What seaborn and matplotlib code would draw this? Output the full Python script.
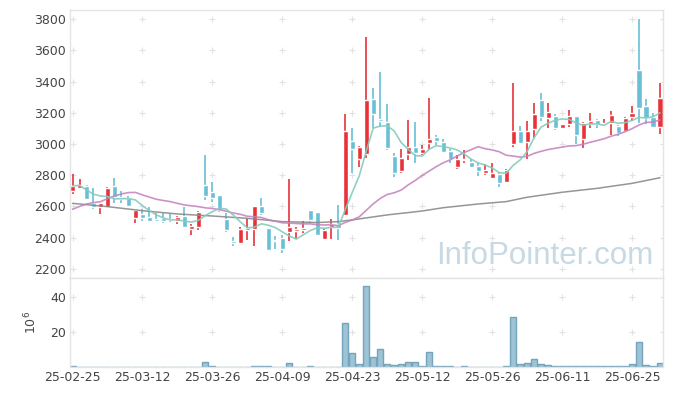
import numpy as np
import pandas as pd
import seaborn as sns
import matplotlib.pyplot as plt

# x axis labels, one every 10 trading days
tick_labels = ["25-02-25", "25-03-12", "25-03-26", "25-04-09", "25-04-23",
               "25-05-12", "25-05-26", "25-06-11", "25-06-25"]

opens = [2696, 2720, 2731, 2620, 2599, 2599, 2731, 2660, 2654, 2528,
         2552, 2533, 2518, 2528, 2522, 2509, 2541, 2458, 2471, 2738,
         2691, 2674, 2520, 2381, 2368, 2450, 2458, 2603, 2460, 2386,
         2396, 2439, 2446, 2450, 2578, 2565, 2394, 2471, 2488, 2546,
         3019, 2906, 2938, 3286, 3160, 3139, 2923, 2827, 2934, 2981,
         2942, 3008, 3045, 3015, 2955, 2855, 2896, 2885, 2859, 2812,
         2784, 2808, 2757, 3000, 3083, 3015, 3098, 3282, 3168, 3179,
         3104, 3126, 3179, 3030, 3126, 3153, 3126, 3136, 3115, 3083,
         3175, 3474, 3243, 3175, 3111]
highs = [2808, 2774, 2738, 2718, 2622, 2722, 2782, 2700, 2670, 2580,
         2585, 2599, 2555, 2555, 2555, 2540, 2595, 2490, 2573, 2930,
         2758, 2674, 2556, 2403, 2471, 2526, 2603, 2652, 2460, 2412,
         2418, 2774, 2471, 2505, 2578, 2565, 2460, 2520, 2610, 3190,
         3100, 2985, 3683, 3356, 3459, 3254, 2944, 2968, 3154, 3141,
         2996, 3292, 3060, 3030, 2970, 2928, 2962, 2906, 2876, 2872,
         2876, 2822, 2838, 3388, 3115, 3149, 3264, 3328, 3260, 3190,
         3130, 3220, 3179, 3141, 3200, 3160, 3160, 3209, 3120, 3170,
         3243, 3798, 3290, 3196, 3388]
lows = [2680, 2710, 2642, 2584, 2552, 2595, 2622, 2622, 2595, 2496,
        2510, 2505, 2500, 2493, 2500, 2490, 2471, 2418, 2450, 2642,
        2630, 2565, 2439, 2347, 2368, 2386, 2347, 2545, 2312, 2327,
        2305, 2381, 2390, 2433, 2492, 2418, 2394, 2394, 2386, 2546,
        2816, 2855, 2908, 3100, 3110, 2962, 2790, 2816, 2896, 2881,
        2928, 2962, 2996, 2940, 2880, 2838, 2876, 2846, 2795, 2801,
        2778, 2726, 2753, 2980, 3000, 2902, 3040, 3150, 3100, 3090,
        3100, 3110, 3000, 2972, 3100, 3100, 3120, 3055, 3050, 3083,
        3150, 3132, 3130, 3100, 3062]
closes = [2732, 2738, 2646, 2599, 2620, 2716, 2663, 2650, 2603, 2578,
          2528, 2509, 2510, 2509, 2512, 2533, 2471, 2475, 2565, 2667,
          2656, 2578, 2450, 2368, 2454, 2464, 2603, 2556, 2322, 2380,
          2326, 2471, 2456, 2462, 2514, 2418, 2450, 2488, 2462, 3083,
          2968, 2981, 3282, 3194, 3149, 2976, 2816, 2908, 2981, 2944,
          2968, 3032, 3021, 2951, 2902, 2904, 2904, 2855, 2829, 2834,
          2812, 2752, 2834, 3083, 3008, 3083, 3192, 3175, 3205, 3104,
          3126, 3179, 3058, 3132, 3147, 3126, 3136, 3183, 3072, 3166,
          3198, 3232, 3164, 3111, 3292]
# volume in millions
volumes = [0.5, 0.1, 0.1, 0.1, 0.1, 0.1, 0.1, 0.1, 0.1, 0.1,
           0.1, 0.1, 0.1, 0.1, 0.1, 0.1, 0.1, 0.1, 0.1, 2.9,
           0.6, 0.1, 0.1, 0.1, 0.1, 0.1, 0.5, 0.5, 0.5, 0.1,
           0.1, 2.3, 0.1, 0.1, 0.5, 0.1, 0.1, 0.1, 0.1, 25.1,
           8.0, 1.7, 46.5, 5.7, 10.3, 1.7, 1.1, 1.7, 2.9, 2.9,
           0.6, 8.6, 0.5, 0.5, 0.5, 0.1, 0.5, 0.1, 0.1, 0.1,
           0.1, 0.1, 0.5, 28.6, 1.7, 2.3, 4.6, 1.7, 1.1, 0.4,
           0.4, 0.4, 0.4, 0.4, 0.4, 0.4, 0.4, 0.4, 0.4, 0.4,
           1.7, 14.3, 1.1, 0.5, 2.3]
# 20 day average before there are 20 bars in view
ma20_lead = [2582, 2600, 2616, 2624, 2631, 2650, 2667, 2680, 2689, 2690,
             2674, 2660, 2646, 2638, 2631, 2620, 2610, 2604, 2599]
# long average (gray), read at some bars
ma_long_idx = [0, 5, 10, 15, 20, 25, 30, 35, 38, 40, 45, 50, 53, 58, 62, 65, 70, 75, 80, 84]
ma_long_val = [2620, 2599, 2573, 2552, 2539, 2524, 2503, 2497, 2503, 2514,
               2546, 2571, 2592, 2616, 2631, 2659, 2691, 2716, 2748, 2784]

df = pd.DataFrame({"open": opens, "high": highs, "low": lows,
                   "close": closes, "volume": volumes})
df["idx"] = np.arange(len(df))
df["ma5"] = df["close"].rolling(5, min_periods=1).mean()
ma20 = df["close"].rolling(20).mean()
ma20.iloc[:19] = ma20_lead
df["ma20"] = ma20
long_df = pd.DataFrame({"idx": ma_long_idx, "ma": ma_long_val})

sns.set_theme(style="white")
plt.rcParams["font.family"] = ["DejaVu Sans"]

W, H = 673, 396
fig = plt.figure(figsize=(W / 100, H / 100), dpi=100)
ax = fig.add_axes([70 / W, 1 - 278 / H, 593 / W, 268 / H])
axv = fig.add_axes([70 / W, 1 - 367 / H, 593 / W, 89 / H])

red, blue = "#e8323a", "#68bfd6"
up = df["close"] >= df["open"]
colors = np.where(up, red, blue)
body = (df["close"] - df["open"]).abs().clip(lower=5)
bottom = df[["open", "close"]].min(axis=1)

ax.vlines(df["idx"], df["low"], df["high"], colors=colors, lw=1.2, zorder=2)
ax.bar(df["idx"], body, bottom=bottom, width=0.72, color=colors, zorder=2)

sns.lineplot(data=long_df, x="idx", y="ma", ax=ax, color="#8a8a8a", lw=1.1, alpha=0.9, zorder=3)
sns.lineplot(data=df, x="idx", y="ma20", ax=ax, color="#c47fbd", lw=1.2, alpha=0.85, zorder=3)
sns.lineplot(data=df, x="idx", y="ma5", ax=ax, color="#86cbbd", lw=1.2, alpha=0.9, zorder=3)

sns.barplot(data=df, x="idx", y="volume", ax=axv, color="#9cc4d6",
            saturation=1, width=0.86, edgecolor="#74a3ba", linewidth=1)

xt = list(range(0, 85, 10))
for a in (ax, axv):
    a.set_xlim(-0.36, 84.43)
    a.set_xlabel("")
    for s in a.spines.values():
        s.set_color("#e4e4e4")
        s.set_linewidth(1)
    a.tick_params(length=0, labelsize=9, colors="#444444", pad=3)

ax.set_ylim(2142, 3858)
ax.set_yticks(range(2200, 3801, 200))
ax.set_ylabel("")
ax.set_xticks(xt)
ax.set_xticklabels([])

axv.set_ylim(0, 51)
axv.set_yticks([20, 40])
axv.set_xticks(xt)
axv.set_xticklabels(tick_labels)
axv.set_ylabel("$10^6$", fontsize=9, color="#444444", labelpad=8)

# faint plus marks at grid crossings
gx, gy = np.meshgrid(xt + [84.43], list(range(2200, 3801, 200)))
ax.plot(gx.ravel(), gy.ravel(), "+", color="#e2e2e2", ms=4, mew=0.8, zorder=1)
gx, gy = np.meshgrid(xt + [84.43], [20, 40])
axv.plot(gx.ravel(), gy.ravel(), "+", color="#e2e2e2", ms=4, mew=0.8, zorder=1)

ax.text(0.80, 0.082, "InfoPointer.com", transform=ax.transAxes, ha="center",
        va="center", fontsize=22.5, color="#c6d9e4", family="Liberation Sans",
        zorder=1)

fig.savefig("out.png", dpi=100)
